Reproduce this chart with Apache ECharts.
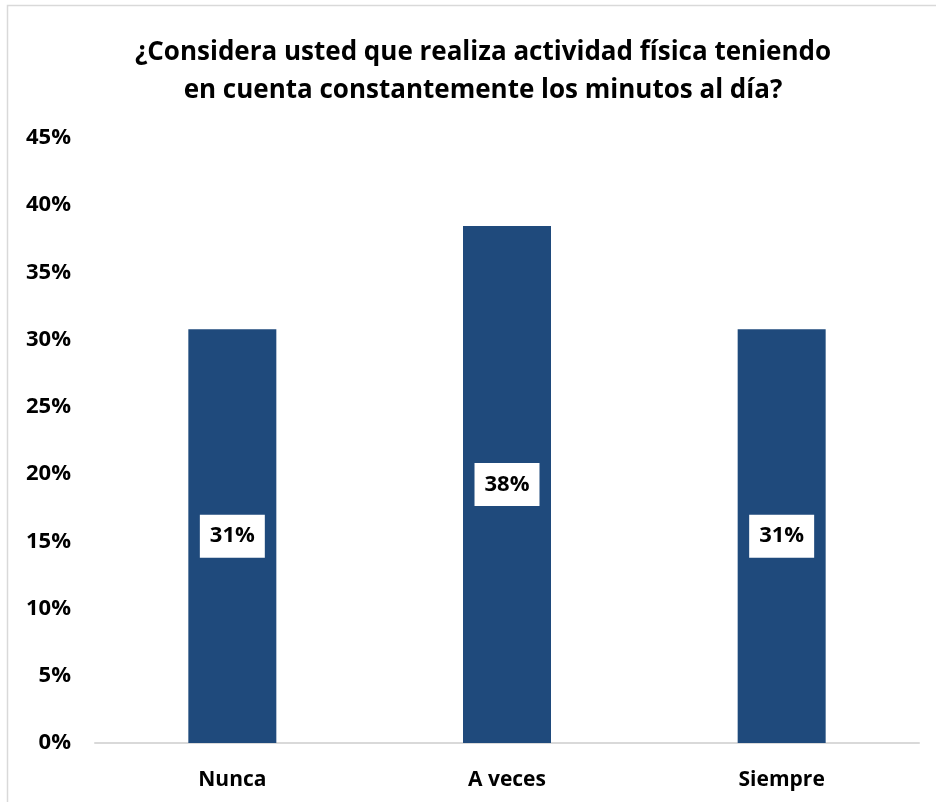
<!DOCTYPE html>
<html>
<head>
<meta charset="utf-8">
<script src="https://cdn.jsdelivr.net/npm/echarts@6/dist/echarts.min.js"></script>
<style>
  html, body { margin: 0; padding: 0; background: #fff; }
  #chart { width: 936px; height: 802px; }
</style>
</head>
<body>
<div id="chart"></div>
<script>
// Survey answers (share of respondents, %)
const categories = ['Nunca', 'A veces', 'Siempre'];
const shares = [30.77, 38.46, 30.77];
const yTicks = [0, 5, 10, 15, 20, 25, 30, 35, 40, 45];

const titleText = '¿Considera usted que realiza actividad física teniendo\nen cuenta constantemente los minutos al día?';
const FONT = '"Open Sans", Lato, sans-serif';

const chart = echarts.init(document.getElementById('chart'), null, { renderer: 'canvas' });

chart.setOption({
  backgroundColor: '#ffffff',
  animation: false,
  title: {
    text: titleText,
    left: 478,
    top: 29,
    textAlign: 'center',
    textStyle: {
      fontFamily: FONT,
      fontWeight: 'bold',
      fontSize: 26,
      lineHeight: 38,
      color: '#000000',
      align: 'center'
    }
  },
  graphic: [{
    type: 'rect',
    silent: true,
    shape: { x: 7.5, y: 5.5, width: 1000, height: 1000 },
    style: { fill: 'none', stroke: '#d9d9d9', lineWidth: 1.5 }
  }],
  grid: {
    left: 95,
    right: 17,
    top: 138,
    bottom: 59,
    containLabel: false
  },
  xAxis: {
    type: 'category',
    data: categories,
    axisLine: { show: true, lineStyle: { color: '#d9d9d9', width: 2 } },
    axisTick: { show: false },
    axisLabel: {
      fontFamily: FONT,
      fontWeight: 'bold',
      fontSize: 21,
      color: '#000000',
      margin: 27
    }
  },
  yAxis: {
    type: 'value',
    min: yTicks[0],
    max: yTicks[yTicks.length - 1],
    interval: 5,
    axisLine: { show: false },
    axisTick: { show: false },
    splitLine: { show: false },
    axisLabel: {
      fontFamily: FONT,
      fontWeight: 'bold',
      fontSize: 22,
      color: '#000000',
      margin: 24,
      formatter: v => v + '%'
    }
  },
  series: [{
    type: 'bar',
    data: shares,
    barWidth: 88,
    itemStyle: { color: '#1f4a7c' },
    label: {
      show: true,
      position: 'inside',
      formatter: p => Math.round(p.value) + '%',
      fontFamily: FONT,
      fontWeight: 'bold',
      fontSize: 22,
      lineHeight: 24,
      color: '#000000',
      backgroundColor: '#ffffff',
      padding: [10, 10, 9, 10]
    }
  }]
});
</script>
</body>
</html>
